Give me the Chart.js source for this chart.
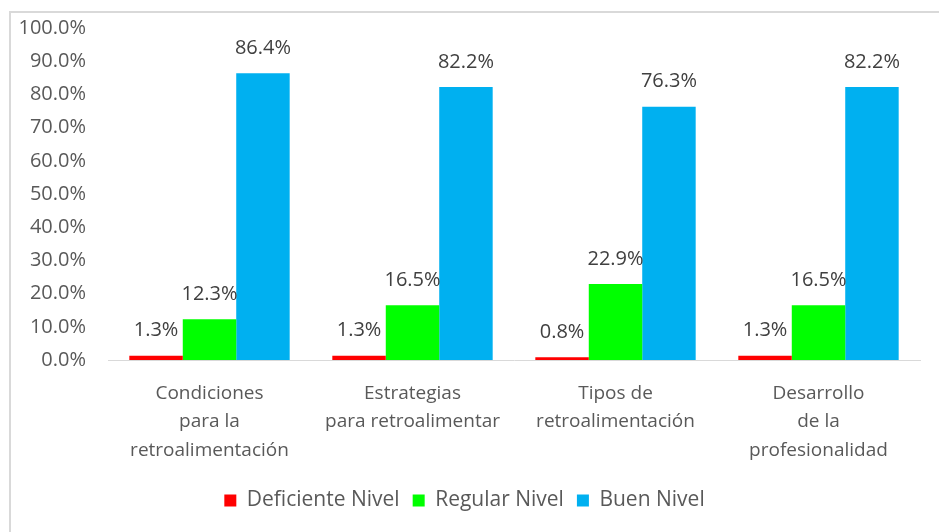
<!DOCTYPE html>
<html>
<head>
<meta charset="utf-8">
<script src="https://cdn.jsdelivr.net/npm/chart.js@4"></script>
<style>
    html, body { margin: 0; padding: 0; background: #ffffff; }
    #wrap { position: relative; width: 939px; height: 532px; overflow: hidden; }
    #frame { position: absolute; left: 9px; top: 11px; width: 940px; height: 540px; border: 2px solid #d9d9d9; box-sizing: border-box; }
    canvas { position: absolute; left: 0; top: 0; }
</style>
</head>
<body>
<div id="wrap">
    <div id="frame"></div>
    <canvas id="chart" width="939" height="532"></canvas>
</div>
<script>
// Chart data
const categories = [
    ['Condiciones', 'para la', 'retroalimentación'],
    ['Estrategias', 'para retroalimentar'],
    ['Tipos de', 'retroalimentación'],
    ['Desarrollo', 'de la', 'profesionalidad']
];
const seriesNames = ['Deficiente Nivel', 'Regular Nivel', 'Buen Nivel'];
const deficiente = [1.3, 1.3, 0.8, 1.3];
const regular = [12.3, 16.5, 22.9, 16.5];
const bueno = [86.4, 82.2, 76.3, 82.2];
const seriesColors = ['#FF0000', '#00FF00', '#00B0F0'];
const yTicks = [0, 10, 20, 30, 40, 50, 60, 70, 80, 90, 100];

const fontFamily = '"Open Sans", Lato, sans-serif';
const textColor = '#595959';

// Draw the value above each bar
const valueLabels = {
    id: 'valueLabels',
    afterDatasetsDraw(chart) {
        const ctx = chart.ctx;
        ctx.save();
        ctx.font = '20px ' + fontFamily;
        ctx.fillStyle = '#404040';
        ctx.textAlign = 'center';
        ctx.textBaseline = 'middle';
        chart.data.datasets.forEach((ds, i) => {
            const meta = chart.getDatasetMeta(i);
            meta.data.forEach((bar, j) => {
                ctx.fillText(ds.data[j].toFixed(1) + '%', bar.x, bar.y - 25);
            });
        });
        ctx.restore();
    }
};

const ctx = document.getElementById('chart').getContext('2d');
new Chart(ctx, {
    type: 'bar',
    data: {
        labels: categories,
        datasets: [deficiente, regular, bueno].map((vals, i) => ({
            label: seriesNames[i],
            data: vals,
            backgroundColor: seriesColors[i],
            borderWidth: 0,
            categoryPercentage: 0.79,
            barPercentage: 1.0
        }))
    },
    options: {
        responsive: false,
        animation: false,
        layout: { autoPadding: false, padding: { top: 28, left: 9, right: 19, bottom: 11 } },
        scales: {
            y: {
                min: 0,
                max: 100,
                afterFit: (scale) => {
                    scale.width = 99;
                    scale.paddingTop = 0;
                    scale.paddingBottom = 0;
                },
                afterBuildTicks: (scale) => { scale.ticks = yTicks.map(v => ({ value: v })); },
                grid: { display: false, drawTicks: false },
                border: { display: false },
                ticks: {
                    padding: 22,
                    color: textColor,
                    font: { family: fontFamily, size: 20 },
                    callback: (v) => v.toFixed(1) + '%'
                }
            },
            x: {
                afterFit: (scale) => { scale.height = 117; },
                grid: { display: false, drawTicks: false },
                border: { display: true, color: '#d9d9d9', width: 1 },
                ticks: {
                    padding: 19,
                    maxRotation: 0,
                    color: textColor,
                    font: { family: fontFamily, size: 19, lineHeight: 1.5 }
                }
            }
        },
        plugins: {
            legend: {
                position: 'bottom',
                labels: {
                    boxWidth: 12,
                    boxHeight: 12,
                    padding: 13,
                    color: textColor,
                    font: { family: fontFamily, size: 21 }
                }
            },
            tooltip: { enabled: false }
        }
    },
    plugins: [valueLabels]
});
</script>
</body>
</html>
